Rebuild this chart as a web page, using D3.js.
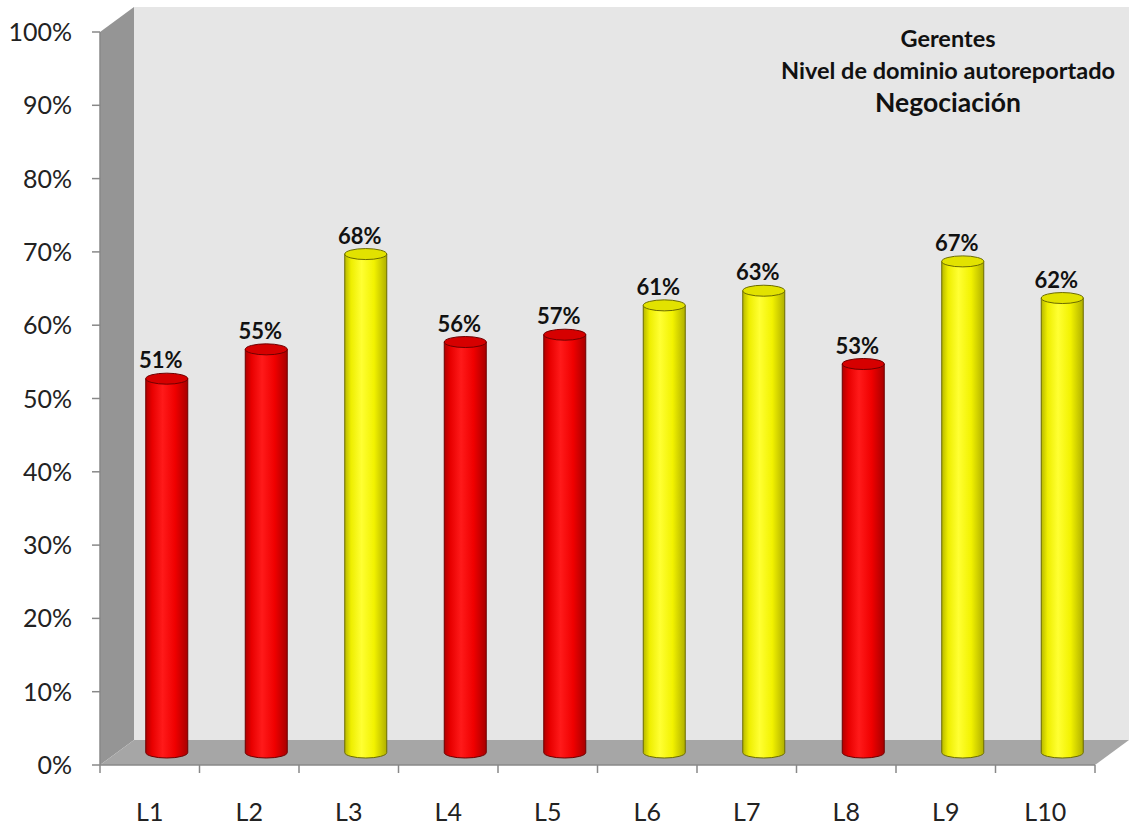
<!DOCTYPE html>
<html><head><meta charset="utf-8">
<script src="https://cdn.jsdelivr.net/npm/d3@7/dist/d3.min.js"></script>
<style>body{margin:0;background:#fff}svg{display:block}</style>
</head><body>
<svg id="chart" width="1129" height="825"></svg>
<script>
const categories = ["L1","L2","L3","L4","L5","L6","L7","L8","L9","L10"];
const values = [0.51,0.55,0.68,0.56,0.57,0.61,0.63,0.53,0.67,0.62];
const valueLabels = ["51%","55%","68%","56%","57%","61%","63%","53%","67%","62%"];
const barColors = ["red","red","yellow","red","red","yellow","yellow","red","yellow","yellow"];
const yTicks = [0,0.1,0.2,0.3,0.4,0.5,0.6,0.7,0.8,0.9,1.0];
const titleLines = ["Gerentes","Nivel de dominio autoreportado","Negociación"];

(function(){
const svg = d3.select("#chart");
const font = "Lato, 'Noto Sans', sans-serif";
const mLeft = 100, mRight = 1095, mTop = 32, mBottom = 765;
const DX = 34, DY = -25;
const x = d3.scaleBand().domain(categories).range([mLeft, mRight]);
const y = d3.scaleLinear().domain([0,1]).range([mBottom, mTop]);

const defs = svg.append("defs");
const pal = {
  red: {stops:[["0%","#b00000"],["15%","#e80000"],["40%","#ff1a1a"],["70%","#f00000"],["100%","#a80000"]], top:"#d60000", stroke:"#6e0000"},
  yellow: {stops:[["0%","#b8b800"],["15%","#eeee00"],["40%","#ffff33"],["70%","#f2f200"],["100%","#b0b000"]], top:"#e2e200", stroke:"#6b6b00"}
};
Object.entries(pal).forEach(([k,p])=>{
  const g = defs.append("linearGradient").attr("id","g_"+k).attr("x1","0%").attr("x2","100%").attr("y1","0").attr("y2","0");
  p.stops.forEach(s=>g.append("stop").attr("offset",s[0]).attr("stop-color",s[1]));
});

// walls
svg.append("path").attr("fill","#e6e6e6")
  .attr("d",`M${mLeft+DX},${y(1)+DY} L1129,${y(1)+DY} L1129,${y(0)+DY} L${mLeft+DX},${y(0)+DY} Z`);
svg.append("path").attr("fill","#959595")
  .attr("d",`M${mLeft},${y(1)} L${mLeft+DX},${y(1)+DY} L${mLeft+DX},${y(0)+DY} L${mLeft},${y(0)} Z`);
svg.append("path").attr("fill","#a6a6a6")
  .attr("d",`M${mLeft},${y(0)} L${mLeft+DX},${y(0)+DY} L${mRight+DX},${y(0)+DY} L${mRight},${y(0)} Z`);

// axes
const axisColor = "#888";
svg.append("line").attr("x1",mLeft).attr("x2",mLeft).attr("y1",y(1)).attr("y2",y(0)).attr("stroke",axisColor).attr("stroke-width",1.5);
svg.append("line").attr("x1",mLeft).attr("x2",mRight).attr("y1",y(0)).attr("y2",y(0)).attr("stroke",axisColor).attr("stroke-width",1.5);
yTicks.forEach(t=>{
  svg.append("line").attr("x1",mLeft-8).attr("x2",mLeft).attr("y1",y(t)).attr("y2",y(t)).attr("stroke",axisColor).attr("stroke-width",1.5);
  svg.append("text").attr("x",72).attr("y",y(t)).attr("dy","0.36em").attr("text-anchor","end")
    .attr("font-family",font).attr("font-size",25).attr("fill","#222").text(d3.format(".0%")(t));
});
const bounds = categories.map(c=>x(c)).concat([mRight]);
bounds.forEach(b=>{
  svg.append("line").attr("x1",b).attr("x2",b).attr("y1",y(0)).attr("y2",y(0)+8).attr("stroke",axisColor).attr("stroke-width",1.5);
});
categories.forEach(c=>{
  svg.append("text").attr("x",x(c)+x.bandwidth()/2).attr("y",812).attr("dy","0.36em").attr("text-anchor","middle")
    .attr("font-family",font).attr("font-size",25).attr("fill","#222").text(c);
});

// cylinders
const W = 42, RY = 5.5;
categories.forEach((c,i)=>{
  const cx = x(c)+x.bandwidth()/2 + DX/2;
  const yb = y(0)+DY/2, yt = y(values[i])+DY/2;
  const p = pal[barColors[i]];
  const g = svg.append("g");
  g.append("path").attr("fill",`url(#g_${barColors[i]})`).attr("stroke",p.stroke).attr("stroke-width",1)
    .attr("d",`M${cx-W/2},${yt} L${cx-W/2},${yb} A${W/2},${RY} 0 0 0 ${cx+W/2},${yb} L${cx+W/2},${yt} Z`);
  g.append("ellipse").attr("cx",cx).attr("cy",yt).attr("rx",W/2).attr("ry",RY)
    .attr("fill",p.top).attr("stroke",p.stroke).attr("stroke-width",1);
  svg.append("text").attr("x",cx-6).attr("y",yt-RY-5).attr("text-anchor","middle")
    .attr("font-family",font).attr("font-weight","bold").attr("font-size",22).attr("fill","#111").text(valueLabels[i]);
});

// title
const tx = 948;
[[39,23.5],[71,23.5],[103,26.5]].forEach((s,i)=>{
  svg.append("text").attr("x",tx).attr("y",s[0]).attr("dy","0.35em").attr("text-anchor","middle")
    .attr("font-family",font).attr("font-weight","bold").attr("font-size",s[1]).attr("fill","#111").text(titleLines[i]);
});
})();
</script>
</body></html>
